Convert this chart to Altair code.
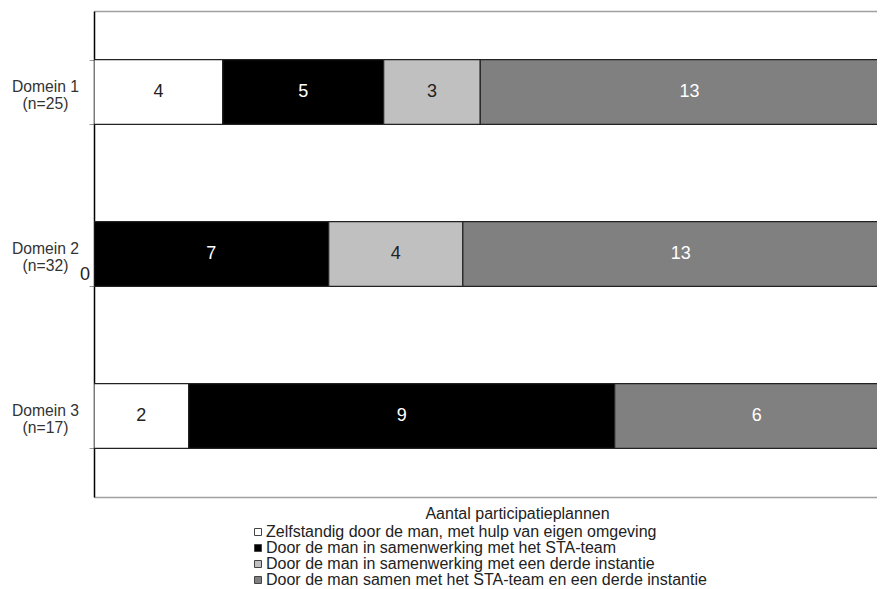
import altair as alt
import pandas as pd

domeins = ["Domein 1|(n=25)", "Domein 2|(n=32)", "Domein 3|(n=17)"]
categories = [
    "Zelfstandig door de man, met hulp van eigen omgeving",
    "Door de man in samenwerking met het STA-team",
    "Door de man in samenwerking met een derde instantie",
    "Door de man samen met het STA-team en een derde instantie",
]
values = {
    "Domein 1|(n=25)": [4, 5, 3, 13],
    "Domein 2|(n=32)": [0, 7, 4, 13],
    "Domein 3|(n=17)": [2, 9, 0, 6],
}
colors = ["#ffffff", "#000000", "#c0c0c0", "#808080"]

rows = []
for d in domeins:
    for i, c in enumerate(categories):
        rows.append({"domein": d, "cat": c, "order": i, "value": values[d][i]})
df = pd.DataFrame(rows)

# the reference's plot runs past the right edge of the picture: show the visible part of the 0-100% range
xscale = alt.Scale(domain=[0, 0.973], nice=False, zero=True)

base = alt.Chart(df).transform_stack(
    stack="value", groupby=["domein"], as_=["x0", "x1"],
    offset="normalize", sort=[alt.SortField("order")]
).transform_calculate(mid="(datum.x0 + datum.x1) / 2")

yenc = alt.Y(
    "domein:N", sort=domeins,
    scale=alt.Scale(paddingInner=0.6, paddingOuter=0.3),
    axis=alt.Axis(
        title=None, labelExpr="split(datum.label, '|')", labelAlign="center",
        labelBaseline="middle", labelPadding=44, labelFontSize=15.7, labelColor="#333333",
        labelLineHeight=16.7, labelOffset=-5.5, labelFont="Liberation Sans",
        tickBand="extent", tickSize=5, tickColor="#999999", ticks=True,
        domainColor="#000000", domainWidth=1.5,
    ),
)

bars = base.transform_filter("datum.value > 0").mark_bar(
    stroke="#222222", strokeWidth=1.2, clip=True
).encode(
    x=alt.X("x0:Q", scale=xscale,
            axis=alt.Axis(labels=False, ticks=False, grid=False, orient="bottom",
                          title="Aantal participatieplannen", titleFontSize=16,
                          titleFontWeight="normal", titleColor="#222222", titleFont="Liberation Sans",
                          titlePadding=8, titleX=423, titleAlign="center",
                          domainColor="#a0a0a0", domainWidth=1.5)),
    x2="x1:Q",
    y=yenc,
    color=alt.Color("cat:N", sort=categories,
                    scale=alt.Scale(domain=categories, range=colors),
                    legend=alt.Legend(
                        title=None, orient="none", legendX=156, legendY=513,
                        direction="vertical", symbolType="square", symbolSize=49,
                        symbolStrokeColor="#444444", symbolStrokeWidth=1,
                        labelFontSize=16, labelFont="Liberation Sans", labelColor="#222222",
                        labelOffset=0, rowPadding=0, padding=0, labelLimit=700,
                    )),
)

labels = base.transform_filter("datum.value > 0").mark_text(
    fontSize=18, font="Liberation Sans"
).encode(
    x=alt.X("mid:Q", scale=xscale,
            axis=alt.Axis(orient="top", labels=False, ticks=False, grid=False, title=None,
                          domainColor="#a0a0a0", domainWidth=1.5)),
    y=alt.Y("domein:N", sort=domeins),
    text="value:Q",
    color=alt.condition("datum.order == 1 || datum.order == 3",
                        alt.value("#ffffff"), alt.value("#222222")),
)

zero = base.transform_filter(
    "datum.value == 0 && datum.order == 0 && datum.domein == 'Domein 2|(n=32)'"
).mark_text(
    fontSize=18, font="Liberation Sans", align="right", dx=-4, dy=21, color="#222222"
).encode(
    x=alt.X("x0:Q", scale=xscale, axis=None),
    y=alt.Y("domein:N", sort=domeins),
    text="value:Q",
)

chart = alt.layer(bars, labels, zero).resolve_axis(x="independent").properties(
    width=783, height=486,
    autosize=alt.AutoSizeParams(type="none"),
    padding={"left": 86, "top": 3, "right": 0, "bottom": 92},
).configure_view(stroke=None)

chart.save("out.html", embed_options={"renderer": "svg", "actions": False})
